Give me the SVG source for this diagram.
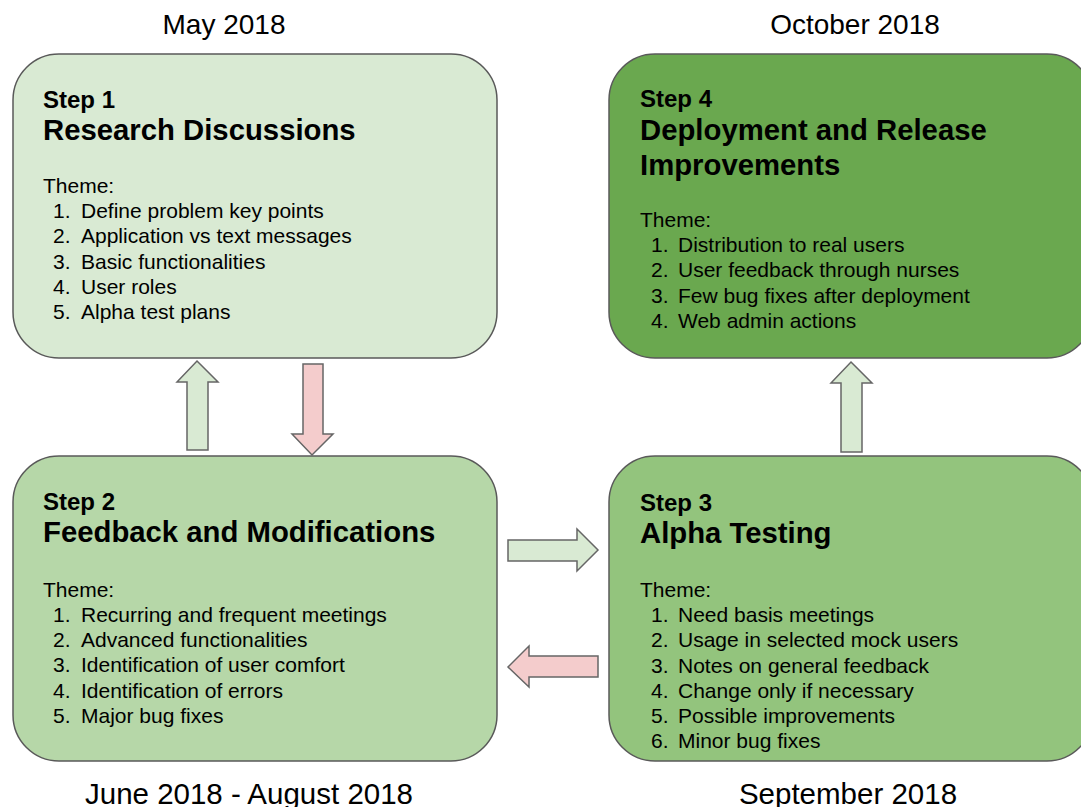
<svg xmlns="http://www.w3.org/2000/svg" width="1081" height="807" viewBox="0 0 1081 807">
<style>
.box{stroke:#595959;stroke-width:1.5}
.arr{stroke:#666666;stroke-width:1.5;stroke-linejoin:miter}
.g{fill:#d9ead3}
.p{fill:#f4cccc}
text{font-family:"Liberation Sans",Arial,sans-serif;fill:#000}
.date{font-size:28px;text-anchor:middle}
.date2{font-size:29.5px;text-anchor:middle}
.step{font-size:24px;font-weight:bold}
.title{font-size:29.3px;font-weight:bold}
.body{font-size:21px}
</style>
<rect width="1081" height="807" fill="#ffffff"/>
<g id="labels">
<text class="date" x="224" y="34">May 2018</text>
<text class="date" x="855" y="34">October 2018</text>
<text class="date2" x="249" y="804">June 2018 - August 2018</text>
<text class="date2" x="848" y="804">September 2018</text>
</g>
<g id="step1">
<rect class="box" x="13" y="54" width="484" height="304" rx="46" fill="#d9ead3"/>
<text class="step" x="43" y="108">Step 1</text>
<text class="title" x="43" y="140">Research Discussions</text>
<text class="body" x="43" y="193">Theme:</text>
<text class="body" x="53" y="218">1.</text><text class="body" x="81" y="218">Define problem key points</text>
<text class="body" x="53" y="243">2.</text><text class="body" x="81" y="243">Application vs text messages</text>
<text class="body" x="53" y="269">3.</text><text class="body" x="81" y="269">Basic functionalities</text>
<text class="body" x="53" y="294">4.</text><text class="body" x="81" y="294">User roles</text>
<text class="body" x="53" y="319">5.</text><text class="body" x="81" y="319">Alpha test plans</text>
</g>
<g id="step4">
<rect class="box" x="609" y="54" width="484" height="304" rx="46" fill="#6aa84f"/>
<text class="step" x="640" y="107">Step 4</text>
<text class="title" x="640" y="140">Deployment and Release</text>
<text class="title" x="640" y="175">Improvements</text>
<text class="body" x="640" y="227">Theme:</text>
<text class="body" x="651" y="252">1.</text><text class="body" x="678" y="252">Distribution to real users</text>
<text class="body" x="651" y="277">2.</text><text class="body" x="678" y="277">User feedback through nurses</text>
<text class="body" x="651" y="303">3.</text><text class="body" x="678" y="303">Few bug fixes after deployment</text>
<text class="body" x="651" y="328">4.</text><text class="body" x="678" y="328">Web admin actions</text>
</g>
<g id="step2">
<rect class="box" x="13" y="456" width="484" height="305" rx="46" fill="#b6d7a8"/>
<text class="step" x="43" y="510">Step 2</text>
<text class="title" x="43" y="542">Feedback and Modifications</text>
<text class="body" x="43" y="597">Theme:</text>
<text class="body" x="53" y="622">1.</text><text class="body" x="81" y="622">Recurring and frequent meetings</text>
<text class="body" x="53" y="647">2.</text><text class="body" x="81" y="647">Advanced functionalities</text>
<text class="body" x="53" y="672">3.</text><text class="body" x="81" y="672">Identification of user comfort</text>
<text class="body" x="53" y="698">4.</text><text class="body" x="81" y="698">Identification of errors</text>
<text class="body" x="53" y="723">5.</text><text class="body" x="81" y="723">Major bug fixes</text>
</g>
<g id="step3">
<rect class="box" x="609" y="456" width="484" height="305" rx="46" fill="#93c47d"/>
<text class="step" x="640" y="511">Step 3</text>
<text class="title" x="640" y="543">Alpha Testing</text>
<text class="body" x="640" y="597">Theme:</text>
<text class="body" x="651" y="622">1.</text><text class="body" x="678" y="622">Need basis meetings</text>
<text class="body" x="651" y="647">2.</text><text class="body" x="678" y="647">Usage in selected mock users</text>
<text class="body" x="651" y="673">3.</text><text class="body" x="678" y="673">Notes on general feedback</text>
<text class="body" x="651" y="698">4.</text><text class="body" x="678" y="698">Change only if necessary</text>
<text class="body" x="651" y="723">5.</text><text class="body" x="678" y="723">Possible improvements</text>
<text class="body" x="651" y="748">6.</text><text class="body" x="678" y="748">Minor bug fixes</text>
</g>
<g id="connectors">
<polygon class="arr g" points="197,361 218,382 208,382 208,450 187,450 187,382 177,382"/>
<polygon class="arr p" points="303,364 323,364 323,434 333,434 312,455 292,434 303,434"/>
<polygon class="arr g" points="508,540 577,540 577,529 598,550 577,571 577,561 508,561"/>
<polygon class="arr p" points="598,656 529,656 529,646 508,667 529,687 529,677 598,677"/>
<polygon class="arr g" points="851,362 872,383 862,383 862,452 841,452 841,383 831,383"/>
</g>
</svg>
